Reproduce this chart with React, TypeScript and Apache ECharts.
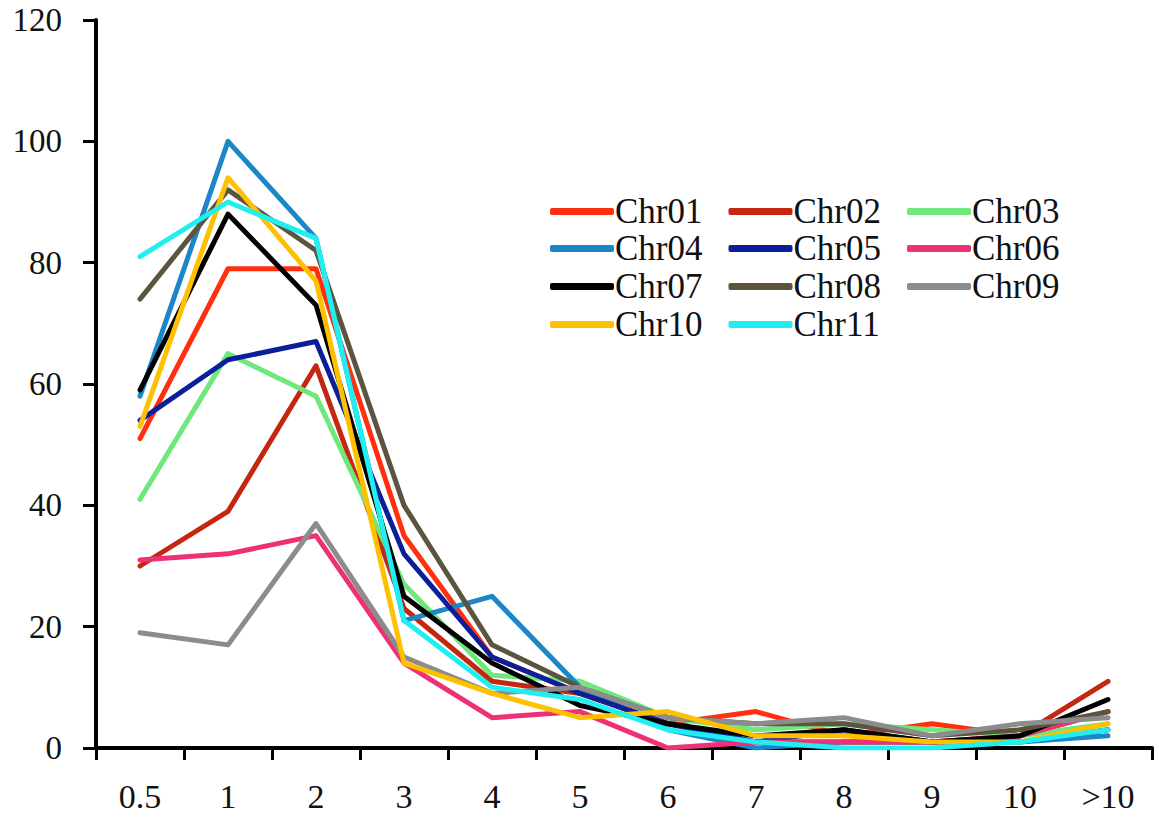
import React, { useEffect, useRef } from "react";
import * as echarts from "echarts";

const categories = ["0.5", "1", "2", "3", "4", "5", "6", "7", "8", "9", "10", ">10"];

const chr01 = [51, 79, 79, 35, 15, 9, 4, 6, 2, 4, 2, 6];
const chr02 = [30, 39, 63, 23, 11, 9, 4, 1, 1, 1, 2, 11];
const chr03 = [41, 65, 58, 27, 12, 11, 5, 3, 4, 3, 2, 4];
const chr04 = [58, 100, 84, 21, 25, 10, 3, 0, 1, 1, 1, 2];
const chr05 = [54, 64, 67, 32, 15, 9, 4, 1, 3, 1, 1, 3];
const chr06 = [31, 32, 35, 14, 5, 6, 0, 1, 1, 1, 2, 6];
const chr07 = [59, 88, 73, 25, 14, 7, 4, 2, 3, 1, 2, 8];
const chr08 = [74, 92, 82, 40, 17, 10, 5, 4, 4, 2, 3, 6];
const chr09 = [19, 17, 37, 15, 9, 10, 5, 4, 5, 2, 4, 5];
const chr10 = [53, 94, 77, 14, 9, 5, 6, 2, 2, 1, 1, 4];
const chr11 = [81, 90, 84, 21, 10, 8, 3, 1, 0, 0, 1, 3];

const seriesNames = ["Chr01", "Chr02", "Chr03", "Chr04", "Chr05", "Chr06", "Chr07", "Chr08", "Chr09", "Chr10", "Chr11"];
const seriesData = [chr01, chr02, chr03, chr04, chr05, chr06, chr07, chr08, chr09, chr10, chr11];
const colors = ["#ff2f0f", "#c4260f", "#6ee87a", "#1b87c8", "#0c1f9a", "#ee3075", "#000000", "#5b5540", "#8c8c8c", "#ffc000", "#20eef0"];

const legendRows = [
  ["Chr01", "Chr02", "Chr03"],
  ["Chr04", "Chr05", "Chr06"],
  ["Chr07", "Chr08", "Chr09"],
  ["Chr10", "Chr11"],
];
const legendTops = [194, 231, 269, 307];

const FONT = "Liberation Serif";

export default function App() {
  const ref = useRef<HTMLDivElement>(null);
  useEffect(() => {
    if (!ref.current) return;
    const chart = echarts.init(ref.current, undefined, { renderer: "svg" });
    chart.setOption({
      animation: false,
      backgroundColor: "#ffffff",
      color: colors,
      textStyle: { fontFamily: FONT },
      grid: { left: 96, right: 7, top: 20, bottom: 69, containLabel: false },
      legend: legendRows.map((row, i) => ({
        data: row,
        left: 550,
        top: legendTops[i],
        orient: "horizontal",
        padding: 0,
        itemGap: 26,
        itemWidth: 64,
        itemHeight: 7,
        icon: "roundRect",
        textStyle: { fontFamily: FONT, fontSize: 35, color: "#111", padding: [0, 0, 0, -4] },
      })),
      xAxis: {
        type: "category",
        data: categories,
        boundaryGap: true,
        axisLine: { show: true, lineStyle: { color: "#000", width: 4 } },
        axisTick: { show: true, length: 12, lineStyle: { color: "#000", width: 3 } },
        axisLabel: { fontFamily: FONT, fontSize: 34, color: "#111", margin: 31 },
        splitLine: { show: false },
      },
      yAxis: {
        type: "value",
        min: 0,
        max: 120,
        interval: 20,
        axisLine: { show: true, lineStyle: { color: "#000", width: 4 } },
        axisTick: { show: true, length: 13, lineStyle: { color: "#000", width: 3 } },
        axisLabel: { fontFamily: FONT, fontSize: 33, color: "#111", margin: 34 },
        splitLine: { show: false },
      },
      series: seriesNames.map((name, i) => ({
        name,
        type: "line",
        data: seriesData[i],
        symbol: "none",
        lineStyle: { width: 5, color: colors[i], cap: "round", join: "round" },
        itemStyle: { color: colors[i] },
      })),
    });
    return () => chart.dispose();
  }, []);
  return <div ref={ref} style={{ position: "fixed", left: 0, top: 0, width: 1159, height: 817 }} />;
}
